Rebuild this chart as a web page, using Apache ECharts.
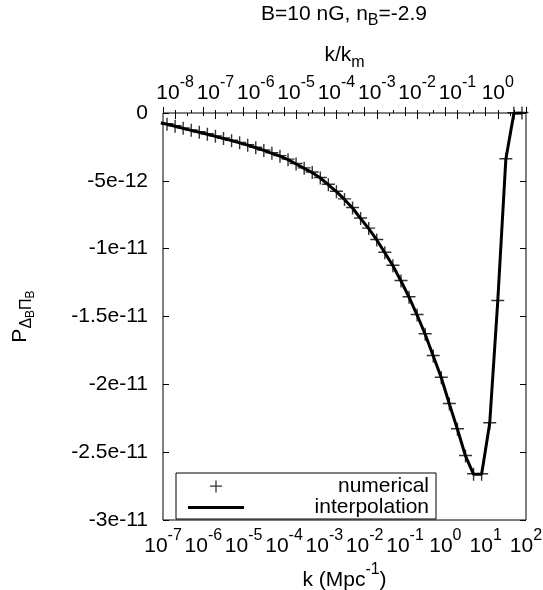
<!DOCTYPE html>
<html><head><meta charset="utf-8">
<script src="https://cdn.jsdelivr.net/npm/echarts@6/dist/echarts.min.js"></script>
<style>html,body{margin:0;padding:0;background:#fff}#c{width:543px;height:590px}</style>
</head><body><div id="c"></div>
<script>
// ---- data ----
const kValues = [7.943e-8,
  1.259e-7, 1.995e-7, 3.162e-7, 5.012e-7, 7.943e-7,
  1.259e-6, 1.995e-6, 3.162e-6, 5.012e-6, 7.943e-6,
  1.259e-5, 1.995e-5, 3.162e-5, 5.012e-5, 7.943e-5,
  1.259e-4, 1.995e-4, 3.162e-4, 5.012e-4, 7.943e-4,
  1.259e-3, 1.995e-3, 3.162e-3, 5.012e-3, 7.943e-3,
  1.259e-2, 1.995e-2, 3.162e-2, 5.012e-2, 7.943e-2,
  0.1259, 0.1995, 0.3162, 0.5012, 0.7943,
  1.259, 1.995, 3.162, 5.012, 7.943,
  12.59, 19.95, 31.62, 50.12, 79.43];
const pValues = [-0.69e-12,
  -0.83e-12, -0.98e-12, -1.13e-12, -1.28e-12, -1.42e-12,
  -1.57e-12, -1.72e-12, -1.88e-12, -2.04e-12, -2.20e-12,
  -2.37e-12, -2.56e-12, -2.76e-12, -2.97e-12, -3.18e-12,
  -3.44e-12, -3.76e-12, -4.08e-12, -4.39e-12, -4.79e-12,
  -5.29e-12, -5.80e-12, -6.37e-12, -7.00e-12, -7.78e-12,
  -8.52e-12, -9.36e-12, -10.30e-12, -11.26e-12, -12.38e-12,
  -13.58e-12, -14.89e-12, -16.31e-12, -17.91e-12, -19.51e-12,
  -21.45e-12, -23.31e-12, -25.28e-12, -26.63e-12, -26.63e-12,
  -22.87e-12, -13.86e-12, -3.41e-12, -0.02e-12, 0.0];
const kMajorTicks = [1e-7, 1e-6, 1e-5, 1e-4, 1e-3, 1e-2, 1e-1, 1e0, 1e1, 1e2];
const kMinorTicks = [2e-7,5e-7,2e-6,5e-6,2e-5,5e-5,2e-4,5e-4,2e-3,5e-3,2e-2,5e-2,2e-1,5e-1,2e0,5e0,2e1,5e1];
const kM = 20;
const ratioMajorTicks = [1e-8, 1e-7, 1e-6, 1e-5, 1e-4, 1e-3, 1e-2, 1e-1, 1e0];
const ratioMinorTicks = [2e-8,5e-8,2e-7,5e-7,2e-6,5e-6,2e-5,5e-5,2e-4,5e-4,2e-3,5e-3,2e-2,5e-2,2e-1,5e-1,2e0];
const yMin = -3e-11, yMax = 0, yStep = 5e-12;
const titleText = ['B=10 nG, n', 'B', '=-2.9'];
const legendNames = ['numerical', 'interpolation'];

// ---- chart ----
const FF = '"Liberation Sans", Arial, sans-serif';
const richPow = {
  b: {fontSize: 21, fontFamily: FF, color: '#000', verticalAlign: 'top', padding: [8, 0, 0, 0]},
  p: {fontSize: 16, fontFamily: FF, color: '#000', verticalAlign: 'top'}
};
const richSub = {
  a: {fontSize: 21, fontFamily: FF, color: '#000', verticalAlign: 'top'},
  s: {fontSize: 16, fontFamily: FF, color: '#000', verticalAlign: 'top', padding: [9, 0, 0, 0]},
  ss: {fontSize: 12, fontFamily: FF, color: '#000', verticalAlign: 'top', padding: [15, 0, 0, 0]}
};
function powLabel(e) { return '{b|10}{p|' + e + '}'; }
const pts = kValues.map((k, i) => [k, pValues[i]]);
const toK = arr => arr.map(r => r * kM);
const crossPath = 'path://M0,5.3H13V6.7H0Z M5.8,0H7.2V13H5.8Z';

const baseX = {type: 'log', logBase: 10, min: 1e-7, max: 1e2, gridIndex: 0,
  axisLine: {show: false}, splitLine: {show: false}, minorTick: {show: false}};

const chart = echarts.init(document.getElementById('c'), null, {renderer: 'canvas'});
chart.setOption({
  animation: false,
  backgroundColor: '#fff',
  graphic: [{
    type: 'text', x: 344, y: 16,
    style: {text: '{a|' + titleText[0] + '}{s|' + titleText[1] + '}{a|' + titleText[2] + '}',
      rich: richSub, align: 'center', verticalAlign: 'middle'}
  }],
  grid: {left: 163, top: 113, width: 363, height: 407, show: true, borderColor: '#000', borderWidth: 1,
    containLabel: false, outerBoundsMode: 'none'},
  xAxis: [
    Object.assign({}, baseX, {position: 'bottom',
      axisTick: {inside: true, length: 6, lineStyle: {color: '#000'}, customValues: kMajorTicks},
      axisLabel: {customValues: kMajorTicks, margin: 8, formatter: v => powLabel(Math.round(Math.log10(v))), rich: richPow},
      name: '{a|k (Mpc}{p|-1}{a|)}', nameLocation: 'middle', nameGap: 38,
      nameTextStyle: {rich: {a: richPow.b, p: richPow.p}}}),
    Object.assign({}, baseX, {position: 'bottom',
      axisTick: {inside: true, length: 3, lineStyle: {color: '#000'}, customValues: kMinorTicks},
      axisLabel: {show: false}}),
    Object.assign({}, baseX, {position: 'top',
      axisTick: {inside: true, length: 6, lineStyle: {color: '#000'}, customValues: toK(ratioMajorTicks)},
      axisLabel: {customValues: toK(ratioMajorTicks), margin: 9, formatter: v => powLabel(Math.round(Math.log10(v / kM))), rich: richPow},
      name: '{a|k/k}{s|m}', nameLocation: 'middle', nameGap: 34,
      nameTextStyle: {rich: richSub}}),
    Object.assign({}, baseX, {position: 'top',
      axisTick: {inside: true, length: 3, lineStyle: {color: '#000'}, customValues: toK(ratioMinorTicks)},
      axisLabel: {show: false}})
  ],
  yAxis: [
    {type: 'value', min: yMin, max: yMax, interval: yStep, position: 'left',
      axisLine: {show: false}, splitLine: {show: false},
      axisTick: {inside: true, length: 6, lineStyle: {color: '#000'}},
      axisLabel: {margin: 15, fontSize: 21, fontFamily: FF, color: '#000',
        formatter: v => Math.abs(v) < 1e-20 ? '0' : v.toExponential(1).replace('.0e', 'e')},
      name: '{a|P}{s|Δ}{ss|B}{s|Π}{ss|B}', nameLocation: 'middle', nameGap: 126,
      nameTextStyle: {rich: richSub}},
    {type: 'value', min: yMin, max: yMax, interval: yStep, position: 'right',
      axisLine: {show: false}, splitLine: {show: false},
      axisTick: {inside: true, length: 6, lineStyle: {color: '#000'}},
      axisLabel: {show: false}}
  ],
  legend: {
    left: 176, top: 473, orient: 'vertical', itemWidth: 56, itemHeight: 12, itemGap: 0,
    padding: [3, 7, 1, 12], borderColor: '#000', borderWidth: 1, borderRadius: 0, backgroundColor: '#fff',
    data: [{name: legendNames[0]}, {name: legendNames[1], icon: 'path://M0,0H56V3H0Z'}], selectedMode: false,
    formatter: n => '{t|' + n + '}',
    textStyle: {rich: {t: {fontSize: 21, fontFamily: FF, color: '#000', width: 180, align: 'right', lineHeight: 20}}}
  },
  series: [
    {type: 'line', name: legendNames[1], xAxisIndex: 0, yAxisIndex: 0, data: pts,
      showSymbol: false, symbol: 'none', clip: true,
      lineStyle: {color: '#000', width: 3}, itemStyle: {color: '#000'}, z: 2},
    {type: 'scatter', name: legendNames[0], xAxisIndex: 0, yAxisIndex: 0, data: pts,
      symbol: crossPath, symbolSize: 13, clip: true, itemStyle: {color: '#000'}, z: 3}
  ]
});
</script></body></html>
